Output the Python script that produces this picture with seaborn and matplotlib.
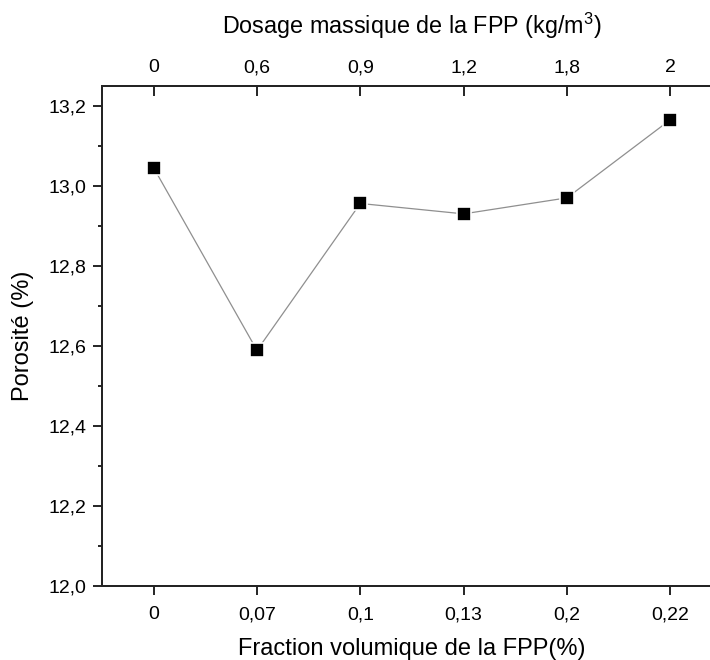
import matplotlib
matplotlib.use('Agg')
import matplotlib.pyplot as plt
import seaborn as sns
import pandas as pd
from matplotlib.ticker import MultipleLocator, FuncFormatter

# data
fraction_labels = ['0', '0,07', '0,1', '0,13', '0,2', '0,22']
dosage_labels = ['0', '0,6', '0,9', '1,2', '1,8', '2']
porosite = [13.045, 12.589, 12.956, 12.930, 12.970, 13.165]

df = pd.DataFrame({'fraction': fraction_labels, 'porosite': porosite})

sns.set_style('ticks')
plt.rcParams['font.family'] = ['Liberation Sans', 'DejaVu Sans']
plt.rcParams['mathtext.default'] = 'regular'
plt.rcParams['text.color'] = 'black'
plt.rcParams['axes.labelcolor'] = 'black'
plt.rcParams['xtick.color'] = 'black'
plt.rcParams['ytick.color'] = 'black'

fig = plt.figure(figsize=(7.1, 6.6), dpi=100)
ax = fig.add_axes([0.1437, 0.112, 0.873, 0.758])

sns.lineplot(data=df, x='fraction', y='porosite', sort=False, ax=ax,
             color='#8f8f8f', linewidth=0.9, marker='s', markersize=9.5,
             markerfacecolor='black', markeredgecolor='white', markeredgewidth=1.2)

ax.set_xlim(-0.5, 5.5)
ax.set_ylim(12.0, 13.25)
ax.yaxis.set_major_locator(MultipleLocator(0.2))
ax.yaxis.set_minor_locator(MultipleLocator(0.1))
ax.yaxis.set_major_formatter(FuncFormatter(lambda v, p: f'{v:.1f}'.replace('.', ',')))

ax.set_xlabel('Fraction volumique de la FPP(%)', fontsize=17, labelpad=11)
ax.set_ylabel('Porosité (%)', fontsize=17, labelpad=10)

for s in ax.spines.values():
    s.set_linewidth(1.3)
    s.set_color('black')

ax.tick_params(axis='both', which='major', direction='out', length=6.5, width=1.2,
               labelsize=14, pad=5)
ax.tick_params(axis='x', which='major', pad=8)
ax.tick_params(axis='y', which='minor', direction='out', length=3, width=1.2)
ax.tick_params(axis='x', which='minor', bottom=False)

# top axis: dosage massique
top = ax.twiny()
top.set_xlim(ax.get_xlim())
top.set_xticks(range(len(dosage_labels)))
top.set_xticklabels(dosage_labels)
top.tick_params(axis='x', direction='in', length=7, width=1.2, labelsize=14, pad=7)
top.set_xlabel('Dosage massique de la FPP (kg/m$^3$)', fontsize=16.8, labelpad=18)
for s in top.spines.values():
    s.set_linewidth(1.3)

fig.savefig('out.png', dpi=100)
